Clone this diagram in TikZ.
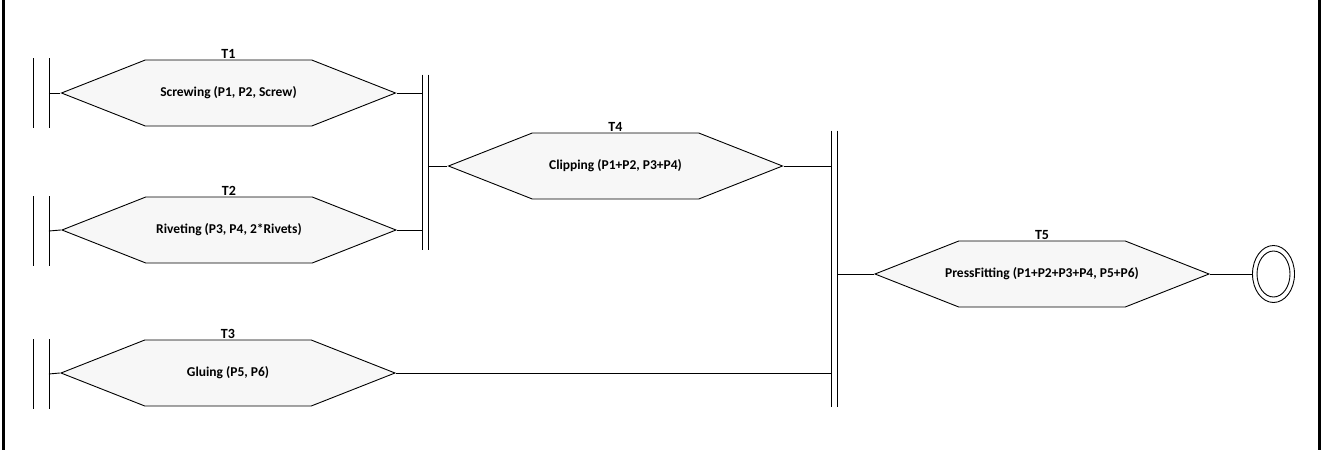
\documentclass[tikz,border=0pt]{standalone}
\usepackage{fontspec}
\setmainfont{Carlito}
\usetikzlibrary{shapes.symbols,shapes.geometric,positioning}

\tikzset{
  task/.style={signal, signal to=east and west, signal pointer angle=43,
    draw, fill=gray!6, minimum height=66, minimum width=334, inner sep=0pt,
    font=\bfseries\fontsize{13.5}{15}\selectfont},
  tname/.style={font=\bfseries\fontsize{14}{16}\selectfont, inner sep=1pt},
  startbar/.style={minimum width=15, minimum height=69, inner sep=0pt},
  joinbar/.style={minimum width=5, inner sep=0pt}
}

\begin{document}
\begin{tikzpicture}[x=1pt,y=-1pt,line width=0.9pt]
  \useasboundingbox (0,0) rectangle (1322,450);
  % frame
  \draw[line width=3pt] (3,0)--(3,450);
  \draw[line width=3pt] (1319.5,0)--(1319.5,450);

  % start bars
  \node[startbar] (s1) at (41,93) {};
  \node[startbar] (s2) at (41,231) {};
  \node[startbar] (s3) at (41,374) {};
  \foreach \s in {s1,s2,s3}{
    \draw (\s.north west)--(\s.south west) (\s.north east)--(\s.south east);
  }

  % join bars
  \node[joinbar, minimum height=175] (j1) at (425.5,162.5) {};
  \node[joinbar, minimum height=276] (j2) at (834.5,269) {};
  \foreach \j in {j1,j2}{
    \draw (\j.north west)--(\j.south west) (\j.north east)--(\j.south east);
  }

  % tasks
  \node[task] (t1) at (228.5,93) {Screwing (P1, P2, Screw)};
  \node[task] (t2) at (229,230) {Riveting (P3, P4, 2*Rivets)};
  \node[task] (t3) at (228,373) {Gluing (P5, P6)};
  \node[task] (t4) at (615.5,166) {Clipping (P1+P2, P3+P4)};
  \node[task] (t5) at (1042,274) {\makebox[0pt]{PressFitting (P1+P2+P3+P4, P5+P6)}};
  \foreach \t/\n in {t1/T1,t2/T2,t3/T3,t4/T4,t5/T5}{
    \node[tname, above=0pt of \t.north] {\n};
  }

  % end
  \node[ellipse, draw, minimum width=42, minimum height=57, inner sep=0pt] (e) at (1273.5,274) {};
  \node[ellipse, draw, minimum width=33, minimum height=46, inner sep=0pt] (e2) at (e.center) {};

  % connectors
  \draw (s1.east)--(t1.west);
  \draw (s2.east)--(t2.west);
  \draw (s3.east)--(t3.west);
  \draw (t1.east)--(t1.east -| j1.west);
  \draw (t2.east)--(t2.east -| j1.west);
  \draw (j1.east |- t4.west)--(t4.west);
  \draw (t4.east)--(t4.east -| j2.west);
  \draw (t3.east)--(t3.east -| j2.west);
  \draw (j2.east |- t5.west)--(t5.west);
  \draw (t5.east)--(e.west);
\end{tikzpicture}
\end{document}
